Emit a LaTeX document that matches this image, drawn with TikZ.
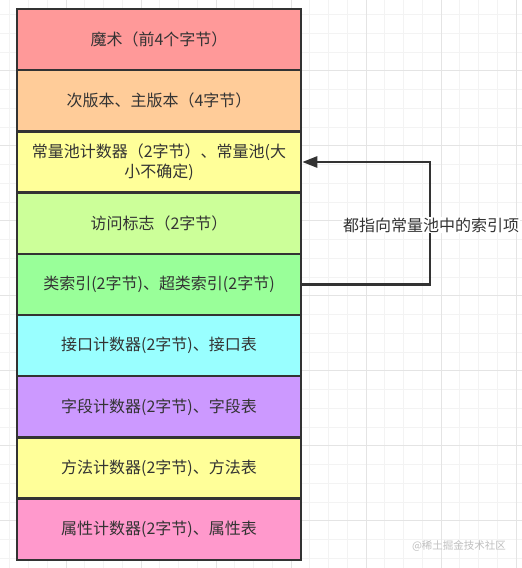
\documentclass[tikz,border=0pt]{standalone}
\usepackage{fontspec}
\setmainfont{Noto Sans CJK SC}
\usetikzlibrary{arrows.meta, positioning}

\definecolor{linegray}{HTML}{333333}
\definecolor{textgray}{HTML}{333333}
\definecolor{minorgrid}{HTML}{F3F3F3}
\definecolor{majorgrid}{HTML}{E4E4E4}
\definecolor{magicred}{HTML}{FF9999}
\definecolor{versionorange}{HTML}{FFCC99}
\definecolor{poolyellow}{HTML}{FFFF99}
\definecolor{flaggreen}{HTML}{CCFF99}
\definecolor{indexgreen}{HTML}{99FF99}
\definecolor{ifacecyan}{HTML}{99FFFF}
\definecolor{fieldpurple}{HTML}{CC99FF}
\definecolor{methodyellow}{HTML}{FFFF99}
\definecolor{attrpink}{HTML}{FF99CC}

\begin{document}
\begin{tikzpicture}[
    x=1pt, y=-1pt,
    node distance=0pt,
    layerbox/.style={rectangle, draw=linegray, line width=2.5pt, minimum width=284pt, minimum height=61.2pt,
        inner sep=0pt, outer sep=0pt, text=textgray, align=center, font=\fontsize{16}{20.5}\selectfont},
    pointer/.style={draw=linegray, line width=2.5pt, -{Triangle[length=15pt, width=11pt]}},
    notelabel/.style={fill=white, inner sep=1pt, text=textgray, font=\fontsize{16}{20}\selectfont},
    ]

    \useasboundingbox (0,0) rectangle (522,568);
    \fill[white] (0,0) rectangle (522,568);

    % background grid
    \foreach \gx in {0,...,27} \draw[minorgrid, line width=0.8pt] (9.75+18.75*\gx,0) -- (9.75+18.75*\gx,568);
    \foreach \gy in {0,...,30} \draw[minorgrid, line width=0.8pt] (0,14.45+18.75*\gy) -- (522,14.45+18.75*\gy);
    \foreach \gx in {-9,66,141,216,291,366,441,516} \draw[majorgrid, line width=1pt] (\gx,0) -- (\gx,568);
    \foreach \gy in {-4.3,70.7,145.7,220.7,295.7,370.7,445.7,520.7} \draw[majorgrid, line width=1pt] (0,\gy) -- (522,\gy);

    % class file layers
    \node[layerbox, fill=magicred]                          (magic)   at (159,39.6) {魔术（前4个字节）};
    \node[layerbox, fill=versionorange] [below=of magic]    (version) {次版本、主版本（4字节）};
    \node[layerbox, fill=poolyellow]    [below=of version]  (pool)    {常量池计数器（2字节）、常量池(大\\小不确定)};
    \node[layerbox, fill=flaggreen]     [below=of pool]     (flags)   {访问标志（2字节）};
    \node[layerbox, fill=indexgreen]    [below=of flags]    (cls)     {类索引(2字节)、超类索引(2字节)};
    \node[layerbox, fill=ifacecyan]     [below=of cls]      (iface)   {接口计数器(2字节)、接口表};
    \node[layerbox, fill=fieldpurple]   [below=of iface]    (field)   {字段计数器(2字节)、字段表};
    \node[layerbox, fill=methodyellow]  [below=of field]    (method)  {方法计数器(2字节)、方法表};
    \node[layerbox, fill=attrpink]      [below=of method]   (attr)    {属性计数器(2字节)、属性表};

    % index pointer
    \coordinate (bend) at (430,0);
    \draw[pointer] (cls.east) -- (cls.east -| bend) |- ([xshift=1.3pt]pool.east);
    \node[notelabel] (note) at (431,225) {都指向常量池中的索引项};

    \node[text=black!25, font=\fontsize{10.5}{12}\selectfont] (mark) at (459,546) {@稀土掘金技术社区};

\end{tikzpicture}
\end{document}
